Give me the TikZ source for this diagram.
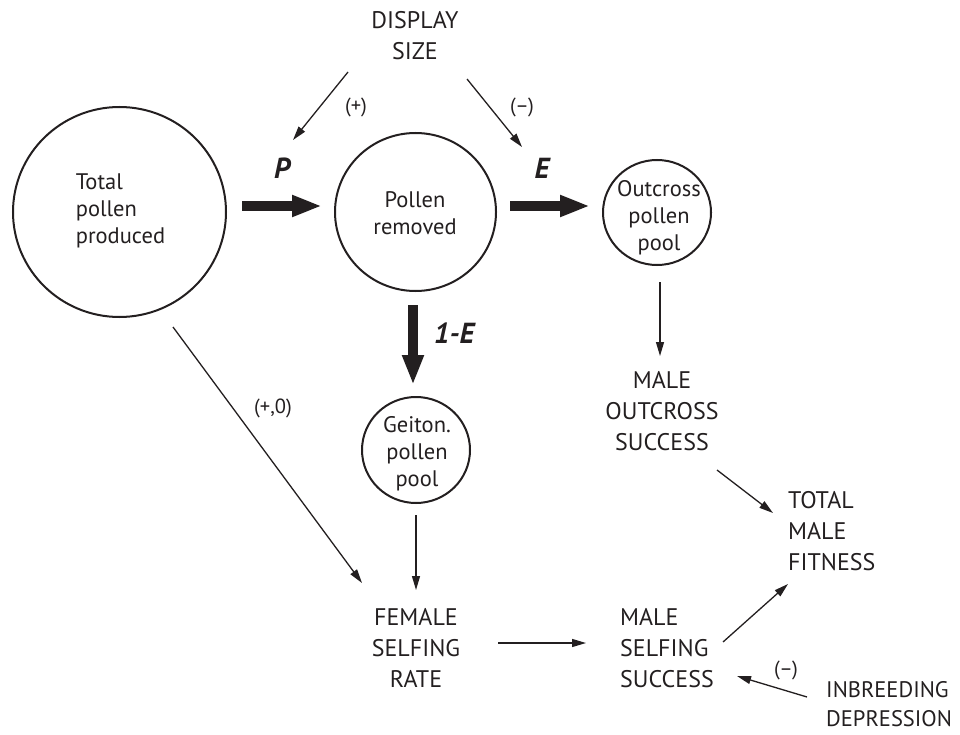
\documentclass[tikz,border=0pt]{standalone}
\usepackage{fontspec}
\setmainfont{PT Sans}
\usetikzlibrary{arrows.meta,shapes.geometric}
\definecolor{ink}{HTML}{231F20}
\begin{document}
\begin{tikzpicture}[x=1pt,y=-1pt,
  every node/.style={text=ink},
  pool/.style={draw=ink, line width=2pt, ellipse, inner sep=0pt},
  intext/.style={font=\fontsize{22.5}{27}\selectfont, align=center, inner sep=0pt},
  caps/.style={font=\fontsize{24}{31}\selectfont, inner sep=0pt},
  sign/.style={font=\fontsize{20.5}{22}\selectfont, inner sep=0pt},
  rate/.style={font=\fontsize{29}{30}\selectfont\bfseries\itshape, inner sep=0pt},
  link/.style={draw=ink, line width=1.3pt, -{Triangle[length=14pt,width=8pt]}},
  flow/.style={draw=ink, line width=10pt, -{Triangle[length=30pt,width=20pt]}},
]
\useasboundingbox (0,0) rectangle (960,735);

% text blocks
\node[caps, align=center] (ds) at (415,35.5) {DISPLAY\\SIZE};
\node[caps, align=center] (mos) at (662,411) {MALE\\OUTCROSS\\SUCCESS};
\node[caps, align=center] (fsr) at (416,648) {FEMALE\\SELFING\\RATE};
\node[caps, align=left, anchor=west] (mss) at (620,648) {MALE\\SELFING\\SUCCESS};
\node[caps, align=left, anchor=west] (tmf) at (788,531) {TOTAL\\MALE\\FITNESS};
\node[caps, align=left, anchor=west, font=\fontsize{22.5}{29}\selectfont] (idp) at (826,704) {INBREEDING\\DEPRESSION};

% pools
\node[pool, minimum width=213pt, minimum height=210pt] (tp) at (119.5,212) {};
\node[intext, align=left] (tpt) at (120.5,211) {Total\\pollen\\produced};
\node[pool, minimum width=161pt, minimum height=158pt] (pr) at (415.5,212) {};
\node[intext] (prt) at (415,213) {Pollen\\removed};
\node[pool, minimum width=108pt, minimum height=105pt] (op) at (657,212.5) {};
\node[intext] (opt) at (659,218) {Outcross\\pollen\\pool};
\node[pool, minimum width=108pt, minimum height=106pt] (gp) at (416,450) {};
\node[intext] (gpt) at (417,454) {Geiton.\\pollen\\pool};

% signs and rates
\node[sign] (sp) at (356,107) {(+)};
\node[sign] (sm) at (522,107) {(\textendash)};
\node[sign] (sz) at (273,408) {(+,0)};
\node[sign] (sm2) at (786,670) {(\textendash)};
\node[rate] (lp) at (282,168) {P};
\node[rate] (le) at (542,168) {E};
\node[rate] (lq) at (454,333) {1-E};

% arrow end points
\coordinate (dsL) at (348,72);   \coordinate (pIn) at (293,140);
\coordinate (dsR) at (467,79);   \coordinate (eIn) at (522,147);
\coordinate (opS) at (660,282);  \coordinate (mosN) at (660,356);
\coordinate (gpS) at (416,515);  \coordinate (fsrN) at (416,590);
\coordinate (tpS) at (173,327);  \coordinate (fsrNW) at (362,583);
\coordinate (fsrE) at (498,643); \coordinate (mssW) at (586,643);
\coordinate (mosSE) at (717,470); \coordinate (tmfW) at (773,513);
\coordinate (mssNE) at (723,642); \coordinate (tmfSW) at (788,584);
\coordinate (idpW) at (807,697); \coordinate (mssE) at (737,676);
\coordinate (tpE) at (242,206);  \coordinate (prW) at (322,206);
\coordinate (prE) at (510,206);  \coordinate (opW) at (590,206);
\coordinate (prS) at (413,305);  \coordinate (gpN) at (413,385);

\draw[link] (dsL) -- (pIn);
\draw[link] (dsR) -- (eIn);
\draw[link] (opS) -- (mosN);
\draw[link] (gpS) -- (fsrN);
\draw[link] (tpS) -- (fsrNW);
\draw[link] (fsrE) -- (mssW);
\draw[link] (mosSE) -- (tmfW);
\draw[link] (mssNE) -- (tmfSW);
\draw[link] (idpW) -- (mssE);

\draw[flow] (tpE) -- (prW);
\draw[flow] (prE) -- (opW);
\draw[flow] (prS) -- (gpN);
\end{tikzpicture}
\end{document}
